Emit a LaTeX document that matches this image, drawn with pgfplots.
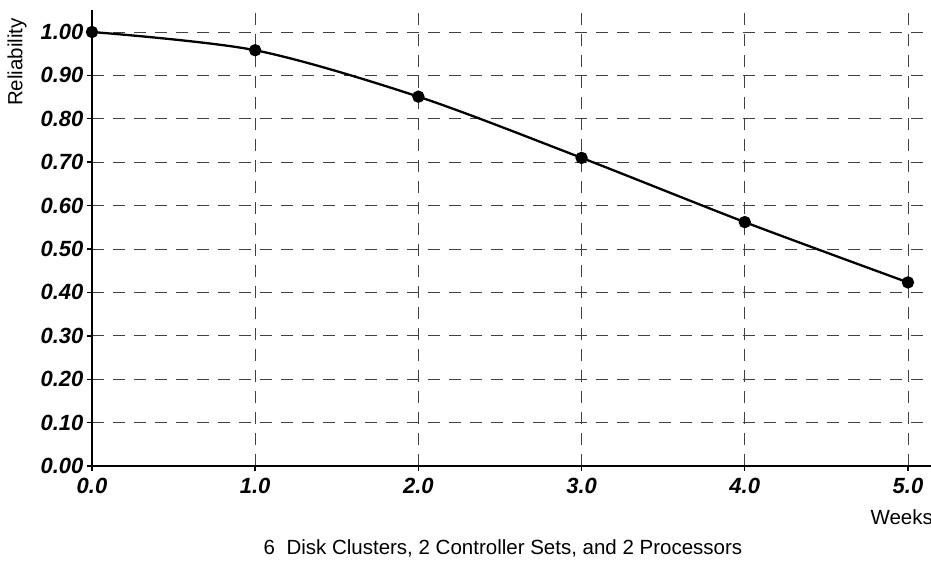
\documentclass[border=0pt]{standalone}
\usepackage{pgfplots}
\pgfplotsset{compat=1.18}
\usepackage{fontspec}
\setmainfont{Liberation Sans}
\begin{document}
\begin{tikzpicture}[x=1pt,y=1pt]
\useasboundingbox (0,0) rectangle (931,568);
\begin{axis}[
  at={(92pt,102pt)}, anchor=south west,
  scale only axis,
  width=848.6pt, height=455.7pt,
  xmin=0, xmax=5.2, ymin=0, ymax=1.05,
  axis lines=left,
  axis line style={line width=2.8pt, -},
  xtick={0,1,2,3,4,5},
  ytick={0,0.1,0.2,0.3,0.4,0.5,0.6,0.7,0.8,0.9,1.0},
  xticklabel style={yshift=-4pt, /pgf/number format/.cd, fixed, fixed zerofill, precision=1},
  yticklabel style={/pgf/number format/.cd, fixed, fixed zerofill, precision=2},
  /pgf/number format/assume math mode=true,
  ticklabel style={font=\fontsize{22}{24}\selectfont\bfseries\itshape, text=black},
  tick align=outside,
  major tick length=5pt,
  tick style={black, line width=1.4pt},
  xmajorgrids, ymajorgrids,
  major grid style={black!75, line width=0.9pt, dash pattern=on 12pt off 9pt},
  clip=false,
]
\addplot[black, line width=2.3pt, smooth, tension=0.5, mark=*, mark size=5pt, mark options={solid}]
  coordinates {(0,1.0) (1,0.958) (2,0.851) (3,0.710) (4,0.562) (5,0.423)};
\end{axis}
\node[rotate=90, font=\fontsize{20.5}{22}\selectfont, anchor=center] at (17,506) {Reliability};
\node[font=\fontsize{20.5}{22}\selectfont, anchor=base west] at (867,44) {Weeks};
\node[font=\fontsize{20.5}{22}\selectfont, anchor=base] at (503,14) {6\ \ Disk Clusters, 2 Controller Sets, and 2 Processors};
\end{tikzpicture}
\end{document}
